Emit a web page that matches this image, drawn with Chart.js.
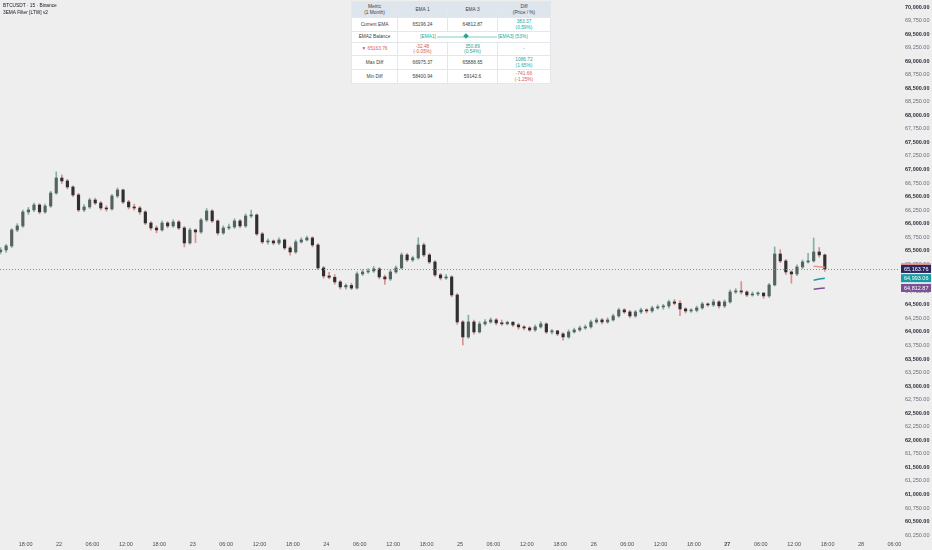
<!DOCTYPE html>
<html>
<head>
<meta charset="utf-8">
<script src="https://cdn.jsdelivr.net/npm/chart.js@4.4.1/dist/chart.umd.min.js"></script>
<style>
    html, body { margin: 0; padding: 0; background: #eeeeee; }
    #wrap { position: relative; width: 932px; height: 550px; overflow: hidden; font-family: "Liberation Sans", Arial, sans-serif; }
    #chart { position: absolute; left: 0; top: 0; }
    #title { position: absolute; left: 3px; top: 3px; font-size: 4.8px; line-height: 6.6px; color: #131722; }
    #ema-table { position: absolute; left: 351px; top: 1px; border-collapse: collapse; table-layout: fixed; font-size: 4.8px; line-height: 5.2px; color: #3a3d45; background: #ffffff; }
    #ema-table td { border: 1px solid #e3e6ea; text-align: center; padding: 0; }
    #ema-table tr.head td { background: #dfe5ec; }
    .up { color: #26a69a; }
    .down { color: #e0574f; }
    .muted { color: #777; }
    .balance { display: flex; align-items: center; justify-content: center; gap: 1px; }
    .bar { position: relative; width: 60px; height: 2px; background: #bfe6e2; }
    .bar i { position: absolute; left: 27px; top: -1.5px; width: 4px; height: 4px; background: #26a69a; transform: rotate(45deg); }
</style>
</head>
<body>
<div id="wrap">
    <canvas id="chart" width="932" height="550"></canvas>
    <div id="title">BTCUSDT · 15 · Binance<br>3EMA Filter [LTW] v2</div>
    <table id="ema-table">
        <colgroup><col style="width:46px"><col style="width:50px"><col style="width:50px"><col style="width:53px"></colgroup>
        <tr class="head" style="height:16px"><td>Metric<br>(1 Month)</td><td>EMA 1</td><td>EMA 3</td><td>Diff<br>(Price / %)</td></tr>
        <tr style="height:14px"><td>Current EMA</td><td>65196.24</td><td>64812.87</td><td class="up">383.37<br>(0.59%)</td></tr>
        <tr style="height:11px"><td>EMA2 Balance</td><td colspan="3"><div class="balance"><span class="up">[EMA1]</span><div class="bar"><i></i></div><span class="up">[EMA3] (53%)</span></div></td></tr>
        <tr style="height:13px"><td class="down">▼ 65163.76</td><td class="down">-32.48<br>(-0.05%)</td><td class="up">350.89<br>(0.54%)</td><td class="muted">-</td></tr>
        <tr style="height:14px"><td>Max Diff</td><td>66975.37</td><td>65888.65</td><td class="up">1086.72<br>(1.65%)</td></tr>
        <tr style="height:14px"><td>Min Diff</td><td>58400.94</td><td>59142.6</td><td class="down">-741.66<br>(-1.25%)</td></tr>
    </table>
</div>
<script>
// Hourly candles, x = hours from 22 00:00 (first candle starts 21 13:00)
const hourStart = -11;
const firstOpen = 65480;

const closes = [
    65514, 65588, 65883, 65957, 66216, 66253, 66345, 66216, 66326, 66566, 66843,
    66788, 66677, 66530, 66253, 66308, 66437, 66381, 66289, 66271, 66511,
    66622, 66400, 66308, 66289, 66216, 66012, 65920, 65883, 66012, 65957,
    66031, 65920, 65643, 65883, 65846, 66068, 66234, 66050, 65828, 65920,
    65939, 66050, 65957, 66142, 66160, 65810, 65662, 65680, 65643, 65699,
    65551, 65477, 65662, 65699, 65736, 65606, 65182, 65034, 65010, 64924,
    64831, 64860, 64810, 65071, 65108, 65127, 65164, 65016, 64979, 65108,
    65182, 65422, 65330, 65367, 65606, 65422, 65293, 65053, 64997, 65016,
    64683, 64185, 63908, 64185, 64000, 64148, 64185, 64222, 64167, 64150,
    64180, 64130, 64093, 64074, 64037, 64093, 64148, 64000, 64020, 63964,
    63908, 64000, 64037, 64074, 64093, 64185, 64222, 64185, 64222, 64296,
    64407, 64370, 64296, 64370, 64407, 64388, 64444, 64462, 64480, 64555,
    64530, 64425, 64388, 64400, 64444, 64517, 64499, 64555, 64481, 64555,
    64739, 64757, 64739, 64683, 64702, 64720, 64665, 64868, 65440, 65311,
    65108, 65071, 65200, 65293, 65311, 65477, 65422, 65163.76
];

const highs = [
    65560, 65620, 65910, 66000, 66250, 66300, 66380, 66370, 66360, 66600, 66955,
    66900, 66820, 66700, 66560, 66350, 66470, 66470, 66410, 66330, 66540,
    66660, 66640, 66430, 66360, 66320, 66240, 66040, 65960, 66050, 66040,
    66070, 66060, 65950, 65920, 65900, 66100, 66280, 66260, 66070, 65960,
    65990, 66090, 66080, 66180, 66250, 66180, 65840, 65720, 65700, 65740,
    65720, 65580, 65700, 65740, 65770, 65760, 65630, 65210, 65100, 65060,
    64950, 64890, 64900, 65110, 65150, 65170, 65210, 65190, 65050, 65150,
    65220, 65460, 65450, 65400, 65740, 65640, 65450, 65320, 65080, 65060,
    65040, 64710, 64210, 64310, 64220, 64190, 64230, 64260, 64250, 64220,
    64200, 64190, 64160, 64120, 64100, 64130, 64190, 64170, 64050, 64030,
    63990, 64040, 64070, 64110, 64130, 64220, 64260, 64250, 64260, 64330,
    64440, 64430, 64400, 64400, 64440, 64430, 64480, 64500, 64510, 64590,
    64600, 64580, 64450, 64430, 64480, 64550, 64540, 64600, 64580, 64590,
    64780, 64800, 64930, 64760, 64740, 64740, 64720, 64900, 65570, 65520,
    65340, 65130, 65240, 65330, 65450, 65735, 65560, 65440
];

const lows = [
    65440, 65470, 65560, 65850, 65930, 66170, 66220, 66180, 66190, 66300, 66540,
    66740, 66640, 66500, 66220, 66220, 66280, 66350, 66250, 66230, 66250,
    66480, 66370, 66270, 66250, 66170, 65980, 65880, 65830, 65860, 65920,
    65930, 65890, 65570, 65620, 65650, 65820, 66040, 66020, 65790, 65800,
    65890, 65910, 65920, 65930, 66110, 65780, 65630, 65620, 65610, 65610,
    65520, 65420, 65450, 65640, 65680, 65570, 65150, 64990, 64980, 64880,
    64790, 64790, 64780, 64790, 65040, 65080, 65100, 64980, 64880, 64950,
    65080, 65160, 65300, 65300, 65340, 65390, 65260, 65020, 64960, 64970,
    64650, 64140, 63760, 63880, 63960, 63980, 64120, 64160, 64130, 64120,
    64130, 64100, 64050, 64040, 64010, 64010, 64070, 63970, 63960, 63930,
    63850, 63880, 63980, 64010, 64050, 64070, 64160, 64150, 64160, 64200,
    64270, 64340, 64260, 64270, 64340, 64350, 64360, 64420, 64420, 64440,
    64500, 64300, 64350, 64360, 64370, 64420, 64470, 64470, 64440, 64450,
    64530, 64710, 64700, 64650, 64660, 64670, 64620, 64640, 64850, 65280,
    65060, 64900, 65040, 65170, 65270, 65290, 65380, 65120
];

// EMA plots only on the last bars
const emaHours = [135.5, 136.5, 137.5];
const ema1Values = [65214, 65205, 65196.24];
const ema2Values = [64955, 64976, 64993.06];
const ema3Values = [64790, 64802, 64812.87];

// Time axis ticks (hours from 22 00:00)
const tickHours = [-6, 0, 6, 12, 18, 24, 30, 36, 42, 48, 54, 60, 66, 72, 78, 84, 90, 96, 102, 108, 114, 120, 126, 132, 138, 144, 150];
const tickLabels = ['18:00', '22', '06:00', '12:00', '18:00', '23', '06:00', '12:00', '18:00', '24', '06:00', '12:00', '18:00', '25',
    '06:00', '12:00', '18:00', '26', '06:00', '12:00', '18:00', '27', '06:00', '12:00', '18:00', '28', '06:00'];

const priceMin = 60250;
const priceMax = 70000;
const priceStep = 250;

const COLORS = {
    upBody: '#56625f',
    downBody: '#2f2f2f',
    upWick: '#7fb3aa',
    downWick: '#d9928e',
    ema1: '#e8968a',
    ema2: '#159ba3',
    ema3: '#7b4f96',
    lastTag: '#2b2562'
};

const opens = closes.map((c, i) => (i === 0 ? firstOpen : closes[i - 1]));
const xs = closes.map((c, i) => hourStart + i + 0.5);
const isUp = closes.map((c, i) => c >= opens[i]);
const lastClose = closes[closes.length - 1];

function fmtPrice(v) {
    return v.toLocaleString('en-US', { minimumFractionDigits: 2, maximumFractionDigits: 2 });
}

// Current price dotted line + price axis tags
const priceTags = {
    id: 'priceTags',
    afterDatasetsDraw(chart) {
        const { ctx, chartArea, scales } = chart;
        const y = Math.round(scales.y.getPixelForValue(lastClose)) + 0.5;
        ctx.save();
        ctx.strokeStyle = '#8a8a8a';
        ctx.lineWidth = 1;
        ctx.setLineDash([1, 2]);
        ctx.beginPath();
        ctx.moveTo(chartArea.left, y);
        ctx.lineTo(chartArea.right, y);
        ctx.stroke();
        ctx.restore();
    },
    afterDraw(chart) {
        const { ctx, chartArea, scales } = chart;
        const tags = [
            { v: ema1Values[ema1Values.length - 1], bg: COLORS.ema1 },
            { v: ema3Values[ema3Values.length - 1], bg: COLORS.ema3 },
            { v: ema2Values[ema2Values.length - 1], bg: COLORS.ema2 },
            { v: lastClose, bg: COLORS.lastTag }
        ];
        ctx.save();
        ctx.font = '5.5px "Liberation Sans", Arial, sans-serif';
        ctx.textBaseline = 'middle';
        tags.forEach(t => {
            const y = scales.y.getPixelForValue(t.v);
            const x0 = chartArea.right + 1;
            ctx.fillStyle = t.bg;
            ctx.fillRect(x0, y - 4, 931 - x0, 8);
            ctx.fillStyle = '#ffffff';
            ctx.fillText(fmtPrice(t.v), x0 + 3, y + 0.5);
        });
        ctx.restore();
    }
};

new Chart(document.getElementById('chart'), {
    type: 'bar',
    data: {
        datasets: [
            { type: 'line', data: emaHours.map((h, i) => ({ x: h, y: ema1Values[i] })), borderColor: COLORS.ema1, borderWidth: 1.5, pointRadius: 0, order: 1 },
            { type: 'line', data: emaHours.map((h, i) => ({ x: h, y: ema2Values[i] })), borderColor: COLORS.ema2, borderWidth: 1.5, pointRadius: 0, order: 1 },
            { type: 'line', data: emaHours.map((h, i) => ({ x: h, y: ema3Values[i] })), borderColor: COLORS.ema3, borderWidth: 1.5, pointRadius: 0, order: 1 },
            {
                data: xs.map((x, i) => ({ x: x, y: [opens[i], closes[i]] })),
                backgroundColor: isUp.map(u => (u ? COLORS.upBody : COLORS.downBody)),
                barThickness: 2.5,
                minBarLength: 1,
                grouped: false,
                borderSkipped: false,
                order: 2
            },
            {
                data: xs.map((x, i) => ({ x: x, y: [lows[i], highs[i]] })),
                backgroundColor: isUp.map(u => (u ? COLORS.upWick : COLORS.downWick)),
                barThickness: 1,
                grouped: false,
                borderSkipped: false,
                order: 3
            }
        ]
    },
    options: {
        responsive: false,
        animation: false,
        events: [],
        layout: { padding: 0 },
        plugins: { legend: { display: false }, tooltip: { enabled: false } },
        scales: {
            x: {
                type: 'linear',
                offset: false,
                min: -10.6,
                max: 151,
                grid: { display: false, drawTicks: false },
                border: { display: false },
                afterBuildTicks: scale => { scale.ticks = tickHours.map(v => ({ value: v })); },
                afterFit: scale => { scale.height = 12; scale.paddingLeft = 0; scale.paddingRight = 0; },
                ticks: {
                    autoSkip: false,
                    maxRotation: 0,
                    padding: 3,
                    color: '#4a4d55',
                    font: ctx => ({ size: 5.5, family: '"Liberation Sans", Arial, sans-serif', weight: ctx.tick && ctx.tick.value === 120 ? 'bold' : 'normal' }),
                    callback: v => tickLabels[tickHours.indexOf(v)]
                }
            },
            y: {
                position: 'right',
                min: 60196,
                max: 70129,
                grid: { display: false, drawTicks: false },
                border: { display: false },
                afterBuildTicks: scale => {
                    const t = [];
                    for (let v = priceMin; v <= priceMax; v += priceStep) t.push({ value: v });
                    scale.ticks = t;
                },
                afterFit: scale => { scale.width = 32; scale.paddingTop = 0; scale.paddingBottom = 0; },
                ticks: {
                    padding: 5,
                    color: ctx => (ctx.tick && ctx.tick.value % 500 === 0 ? '#2a2e39' : '#6a6d78'),
                    font: ctx => ({ size: 5.5, family: '"Liberation Sans", Arial, sans-serif', weight: ctx.tick && ctx.tick.value % 500 === 0 ? 'bold' : 'normal' }),
                    callback: v => fmtPrice(v)
                }
            }
        }
    },
    plugins: [priceTags]
});
</script>
</body>
</html>
